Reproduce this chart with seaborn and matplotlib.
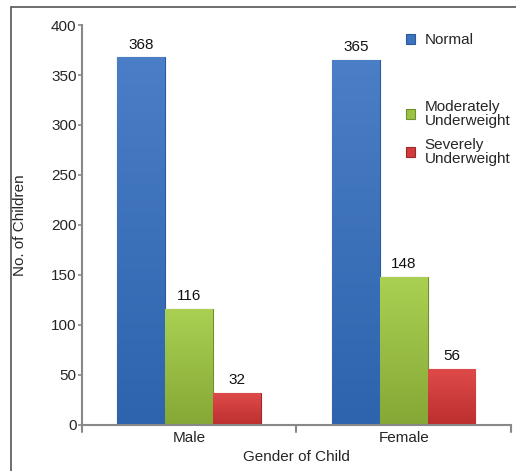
import matplotlib
matplotlib.use("Agg")
import matplotlib.pyplot as plt
import matplotlib.patches as mpatches
from matplotlib.colors import LinearSegmentedColormap
import numpy as np
import seaborn as sns
import pandas as pd

genders = ["Male", "Female"]
statuses = ["Normal", "Moderately Underweight", "Severely Underweight"]
legend_labels = ["Normal", "Moderately\nUnderweight", "Severely\nUnderweight"]
normal = [368, 365]
moderate = [116, 148]
severe = [32, 56]
y_ticks = [0, 50, 100, 150, 200, 250, 300, 350, 400]

colors = ["#3d72bd", "#9cc245", "#d23c3c"]
tops = ["#4a7ec6", "#a9d052", "#de4a4a"]
bottoms = ["#2d64ad", "#86a836", "#bd2f2f"]
edges = ["#2a5a9c", "#6f8f2c", "#9c2828"]

df = pd.DataFrame({
    "Gender": genders * 3,
    "Status": [statuses[0]] * 2 + [statuses[1]] * 2 + [statuses[2]] * 2,
    "Count": normal + moderate + severe,
})

sns.set_style("white")
plt.rcParams["font.family"] = ["Liberation Sans", "DejaVu Sans"]
FS = 11

fig = plt.figure(figsize=(5.16, 4.71), dpi=100)
ax = fig.add_axes([0.159, 0.0987, 0.831, 0.848])

sns.barplot(data=df, x="Gender", y="Count", hue="Status", order=genders,
            hue_order=statuses, palette=colors, width=0.67, saturation=1,
            ax=ax, legend=False)

ax.set_ylim(0, 400)
ax.set_xlim(-0.5, 1.5)

# vertical shading inside each bar, clipped to the bar outline
grad = np.linspace(1, 0, 64).reshape(-1, 1)
for cont, top, bot, ec in zip(ax.containers, tops, bottoms, edges):
    cmap = LinearSegmentedColormap.from_list("shade", [bot, top])
    for bar in cont:
        bar.set_edgecolor(ec)
        bar.set_linewidth(0.8)
        x0, y0 = bar.get_x(), bar.get_y()
        w, h = bar.get_width(), bar.get_height()
        im = ax.imshow(grad, cmap=cmap, aspect="auto", interpolation="bilinear",
                       extent=(x0, x0 + w, y0, y0 + h), zorder=bar.get_zorder() + 0.1)
        im.set_clip_path(bar)
    ax.bar_label(cont, padding=4, fontsize=FS, color="#111111")

ax.set_ylim(0, 400)
ax.set_xlim(-0.5, 1.5)
ax.set_yticks(y_ticks)
ax.set_xticks([0, 1])
ax.set_xticklabels(genders, fontsize=FS)
ax.tick_params(axis="x", length=0, pad=5)
# tick marks at the category boundaries
for xv in [-0.5, 0.5, 1.5]:
    ax.plot([xv, xv], [0, -0.018], transform=ax.get_xaxis_transform(),
            color="#888888", lw=1.5, clip_on=False)
ax.tick_params(axis="y", length=3, width=1.2, color="#888888",
               labelsize=FS, pad=1, left=True)
for s in ["top", "right"]:
    ax.spines[s].set_visible(False)
for s in ["left", "bottom"]:
    ax.spines[s].set_color("#888888")
    ax.spines[s].set_linewidth(1.5)

ax.set_xlabel("Gender of Child", fontsize=FS, labelpad=3)
ax.set_ylabel("No. of Children", fontsize=FS, labelpad=17)

handles = [mpatches.Patch(facecolor=c, edgecolor=e, lw=0.8)
           for c, e in zip(colors, edges)]
common = dict(frameon=False, fontsize=FS, handlelength=0.6, handleheight=0.6,
              handletextpad=0.6, borderpad=0, borderaxespad=0)
leg1 = ax.legend(handles[:1], legend_labels[:1], loc="center left",
                 bbox_to_anchor=(0.756, 0.962), **common)
ax.add_artist(leg1)
leg2 = ax.legend(handles[1:], legend_labels[1:], loc="upper left",
                 bbox_to_anchor=(0.756, 0.812), labelspacing=0.65, **common)
for t in leg2.get_texts():
    t.set_linespacing(1.0)

# outer frame of the figure
fig.patches.append(mpatches.Rectangle((11 / 516, -0.1), 1.2, 1.1 - 7 / 471,
                                      transform=fig.transFigure, fill=False,
                                      edgecolor="#555555", lw=1.2))

fig.savefig("out.png", dpi=100)
